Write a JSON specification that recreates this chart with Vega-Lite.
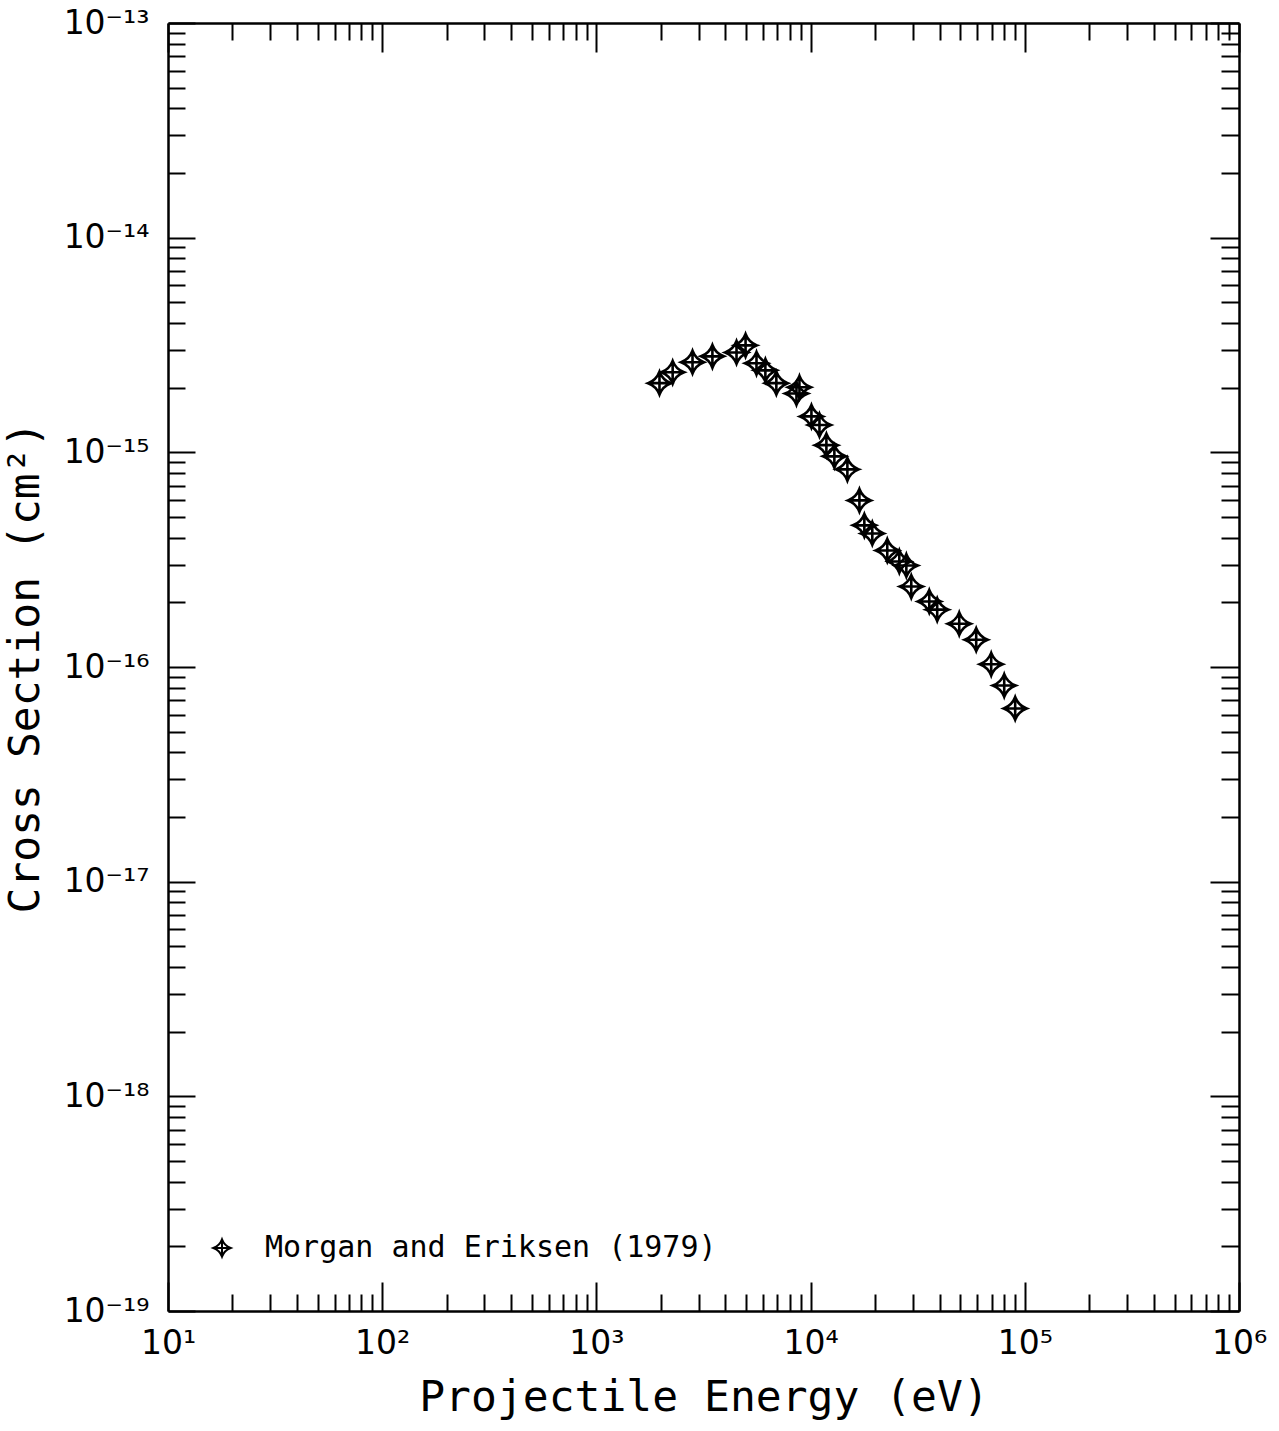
{
  "$schema": "https://vega.github.io/schema/vega-lite/v6.json",
  "width": 1071,
  "height": 1288,
  "autosize": {"type": "none"},
  "padding": {"left": 168, "top": 23, "right": 40, "bottom": 120},
  "background": "white",
  "config": {
    "view": {"stroke": null},
    "axis": {
      "grid": false,
      "domainColor": "black",
      "domainWidth": 2.5,
      "tickColor": "black",
      "tickWidth": 2,
      "labelFont": "DejaVu Sans",
      "labelFontSize": 33,
      "labelColor": "black",
      "labelOverlap": false,
      "labelFlush": false,
      "labelBound": false,
      "titleFont": "DejaVu Sans Mono",
      "titleFontSize": 43,
      "titleFontWeight": "normal",
      "titleColor": "black"
    }
  },
  "data": {
    "values": [
      {"energy": 1970, "sigma": 2.10e-15, "source": "Morgan and Eriksen (1979)"},
      {"energy": 2270, "sigma": 2.36e-15, "source": "Morgan and Eriksen (1979)"},
      {"energy": 2810, "sigma": 2.63e-15, "source": "Morgan and Eriksen (1979)"},
      {"energy": 3480, "sigma": 2.80e-15, "source": "Morgan and Eriksen (1979)"},
      {"energy": 4510, "sigma": 2.92e-15, "source": "Morgan and Eriksen (1979)"},
      {"energy": 4970, "sigma": 3.15e-15, "source": "Morgan and Eriksen (1979)"},
      {"energy": 5590, "sigma": 2.60e-15, "source": "Morgan and Eriksen (1979)"},
      {"energy": 6150, "sigma": 2.41e-15, "source": "Morgan and Eriksen (1979)"},
      {"energy": 6920, "sigma": 2.10e-15, "source": "Morgan and Eriksen (1979)"},
      {"energy": 8590, "sigma": 1.88e-15, "source": "Morgan and Eriksen (1979)"},
      {"energy": 8870, "sigma": 2.01e-15, "source": "Morgan and Eriksen (1979)"},
      {"energy": 10090, "sigma": 1.47e-15, "source": "Morgan and Eriksen (1979)"},
      {"energy": 11000, "sigma": 1.34e-15, "source": "Morgan and Eriksen (1979)"},
      {"energy": 11850, "sigma": 1.08e-15, "source": "Morgan and Eriksen (1979)"},
      {"energy": 12910, "sigma": 9.58e-16, "source": "Morgan and Eriksen (1979)"},
      {"energy": 14850, "sigma": 8.33e-16, "source": "Morgan and Eriksen (1979)"},
      {"energy": 16900, "sigma": 5.97e-16, "source": "Morgan and Eriksen (1979)"},
      {"energy": 17820, "sigma": 4.57e-16, "source": "Morgan and Eriksen (1979)"},
      {"energy": 19410, "sigma": 4.19e-16, "source": "Morgan and Eriksen (1979)"},
      {"energy": 22800, "sigma": 3.49e-16, "source": "Morgan and Eriksen (1979)"},
      {"energy": 25950, "sigma": 3.10e-16, "source": "Morgan and Eriksen (1979)"},
      {"energy": 27990, "sigma": 2.97e-16, "source": "Morgan and Eriksen (1979)"},
      {"energy": 29510, "sigma": 2.37e-16, "source": "Morgan and Eriksen (1979)"},
      {"energy": 35810, "sigma": 2.02e-16, "source": "Morgan and Eriksen (1979)"},
      {"energy": 39000, "sigma": 1.85e-16, "source": "Morgan and Eriksen (1979)"},
      {"energy": 49420, "sigma": 1.59e-16, "source": "Morgan and Eriksen (1979)"},
      {"energy": 59310, "sigma": 1.34e-16, "source": "Morgan and Eriksen (1979)"},
      {"energy": 69690, "sigma": 1.03e-16, "source": "Morgan and Eriksen (1979)"},
      {"energy": 80150, "sigma": 8.20e-17, "source": "Morgan and Eriksen (1979)"},
      {"energy": 90180, "sigma": 6.41e-17, "source": "Morgan and Eriksen (1979)"}
    ]
  },
  "layer": [
    {
      "mark": {"type": "point", "filled": false, "size": 520, "stroke": "black", "strokeWidth": 2.6, "opacity": 1},
      "encoding": {
        "x": {
          "field": "energy",
          "type": "quantitative",
          "scale": {"type": "log", "domain": [10, 1000000], "nice": false},
          "axis": {
            "orient": "bottom",
            "title": "Projectile Energy (eV)",
            "titlePadding": 4,
            "values": [10, 20, 30, 40, 50, 60, 70, 80, 90, 100, 200, 300, 400, 500, 600, 700, 800, 900, 1000, 2000, 3000, 4000, 5000, 6000, 7000, 8000, 9000, 10000, 20000, 30000, 40000, 50000, 60000, 70000, 80000, 90000, 100000, 200000, 300000, 400000, 500000, 600000, 700000, 800000, 900000, 1000000],
            "tickSize": {"condition": {"test": "abs(log(datum.value)/LN10 - round(log(datum.value)/LN10)) < 0.001", "value": -29}, "value": -17},
            "labelPadding": 45,
            "labelBaseline": "top",
            "labelExpr": "datum.value == 10 ? '10¹' : datum.value == 100 ? '10²' : datum.value == 1000 ? '10³' : datum.value == 10000 ? '10⁴' : datum.value == 100000 ? '10⁵' : datum.value == 1000000 ? '10⁶' : ''"
          }
        },
        "y": {
          "field": "sigma",
          "type": "quantitative",
          "scale": {"type": "log", "domain": [1e-19, 1e-13], "nice": false},
          "axis": {
            "orient": "left",
            "title": "Cross Section (cm²)",
            "titlePadding": 16,
            "values": [1e-19, 2e-19, 3e-19, 4e-19, 5e-19, 6e-19, 7e-19, 8e-19, 9e-19, 1e-18, 2e-18, 3e-18, 4e-18, 5e-18, 6e-18, 7e-18, 8e-18, 9e-18, 1e-17, 2e-17, 3e-17, 4e-17, 5e-17, 6e-17, 7e-17, 8e-17, 9e-17, 1e-16, 2e-16, 3e-16, 4e-16, 5e-16, 6e-16, 7e-16, 8e-16, 9e-16, 1e-15, 2e-15, 3e-15, 4e-15, 5e-15, 6e-15, 7e-15, 8e-15, 9e-15, 1e-14, 2e-14, 3e-14, 4e-14, 5e-14, 6e-14, 7e-14, 8e-14, 9e-14, 1e-13],
            "tickSize": {"condition": {"test": "abs(log(datum.value)/LN10 - round(log(datum.value)/LN10)) < 0.001", "value": -27}, "value": -17},
            "labelPadding": 46,
            "labelExpr": "datum.value == 1e-13 ? '10⁻¹³' : datum.value == 1e-14 ? '10⁻¹⁴' : datum.value == 1e-15 ? '10⁻¹⁵' : datum.value == 1e-16 ? '10⁻¹⁶' : datum.value == 1e-17 ? '10⁻¹⁷' : datum.value == 1e-18 ? '10⁻¹⁸' : datum.value == 1e-19 ? '10⁻¹⁹' : ''"
          }
        },
        "shape": {
          "field": "source",
          "type": "nominal",
          "scale": {"range": ["M0,-1Q0.27,-0.27,1,0Q0.27,0.27,0,1Q-0.27,0.27,-1,0Q-0.27,-0.27,0,-1ZM0,-1L0,1M-1,0L1,0"]},
          "legend": {
            "title": null,
            "orient": "none",
            "legendX": 39,
            "legendY": 1210,
            "padding": 0,
            "labelFont": "DejaVu Sans Mono",
            "labelFontSize": 30,
            "labelColor": "black",
            "labelOffset": 28,
            "labelLimit": 0,
            "symbolSize": 300,
            "symbolStrokeColor": "black",
            "symbolStrokeWidth": 2,
            "symbolFillColor": "transparent",
            "symbolType": "M0,-1Q0.27,-0.27,1,0Q0.27,0.27,0,1Q-0.27,0.27,-1,0Q-0.27,-0.27,0,-1ZM0,-1L0,1M-1,0L1,0"
          }
        }
      }
    },
    {
      "mark": {"type": "point", "opacity": 0},
      "encoding": {
        "x": {
          "field": "energy",
          "type": "quantitative",
          "axis": {
            "orient": "top",
            "title": null,
            "labels": false,
            "values": [10, 20, 30, 40, 50, 60, 70, 80, 90, 100, 200, 300, 400, 500, 600, 700, 800, 900, 1000, 2000, 3000, 4000, 5000, 6000, 7000, 8000, 9000, 10000, 20000, 30000, 40000, 50000, 60000, 70000, 80000, 90000, 100000, 200000, 300000, 400000, 500000, 600000, 700000, 800000, 900000, 1000000],
            "tickSize": {"condition": {"test": "abs(log(datum.value)/LN10 - round(log(datum.value)/LN10)) < 0.001", "value": -29}, "value": -17}
          }
        },
        "y": {
          "field": "sigma",
          "type": "quantitative",
          "axis": {
            "orient": "right",
            "title": null,
            "labels": false,
            "values": [1e-19, 2e-19, 3e-19, 4e-19, 5e-19, 6e-19, 7e-19, 8e-19, 9e-19, 1e-18, 2e-18, 3e-18, 4e-18, 5e-18, 6e-18, 7e-18, 8e-18, 9e-18, 1e-17, 2e-17, 3e-17, 4e-17, 5e-17, 6e-17, 7e-17, 8e-17, 9e-17, 1e-16, 2e-16, 3e-16, 4e-16, 5e-16, 6e-16, 7e-16, 8e-16, 9e-16, 1e-15, 2e-15, 3e-15, 4e-15, 5e-15, 6e-15, 7e-15, 8e-15, 9e-15, 1e-14, 2e-14, 3e-14, 4e-14, 5e-14, 6e-14, 7e-14, 8e-14, 9e-14, 1e-13],
            "tickSize": {"condition": {"test": "abs(log(datum.value)/LN10 - round(log(datum.value)/LN10)) < 0.001", "value": -29}, "value": -18}
          }
        }
      }
    }
  ],
  "resolve": {"axis": {"x": "independent", "y": "independent"}}
}
